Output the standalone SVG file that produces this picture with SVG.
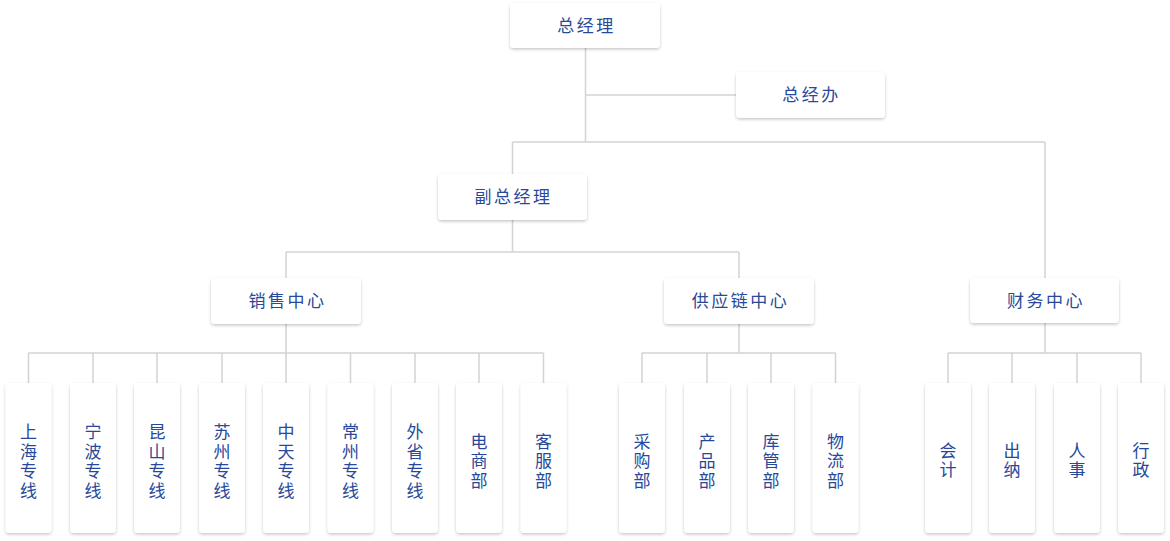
<svg xmlns="http://www.w3.org/2000/svg" width="1170" height="541" viewBox="0 0 1170 541">
<defs>
<filter id="sh" x="-30%" y="-30%" width="160%" height="160%">
<feDropShadow dx="0" dy="1.5" stdDeviation="1.8" flood-color="#000" flood-opacity="0.22"/>
</filter>
<style>
.b{fill:#fff;filter:url(#sh)}
.t{font-family:"Noto Sans CJK SC","Noto Sans",sans-serif;font-size:17px;fill:#28499a;text-anchor:middle;letter-spacing:2.5px}
.v{font-family:"Noto Sans CJK SC","Noto Sans",sans-serif;font-size:17px;fill:#28499a;text-anchor:middle}
.c{stroke:#d3d3d3;stroke-width:1.5;fill:none}
</style>
</defs>
<rect width="1170" height="541" fill="#fff"/>
<g id="connectors" class="c">
<path d="M585.5 48V142M585.5 95H736M512.5 142H1045M512.5 142V174M1045 142V278"/>
<path d="M512.5 220V252M286 252H739M286 252V278M739 252V278"/>
<path d="M286 324V353M28.5 353H543.5M28.5 353V383M93 353V383M157 353V383M222 353V383M286 353V383M350.5 353V383M415 353V383M479 353V383M543.5 353V383"/>
<path d="M739 324V353M642 353H835.5M642 353V383M707 353V383M771 353V383M835.5 353V383"/>
<path d="M1045 323V353M948 353H1141M948 353V383M1012 353V383M1077 353V383M1141 353V383"/>
</g>
<g id="n-zjl"><rect class="b" x="510" y="3" width="150" height="45" rx="4"/><text class="t" x="586.5" y="32">总经理</text></g>
<g id="n-zjb"><rect class="b" x="736" y="72" width="149" height="46" rx="4"/><text class="t" x="811.5" y="101">总经办</text></g>
<g id="n-fzjl"><rect class="b" x="438" y="174" width="149" height="46" rx="4"/><text class="t" x="513.5" y="203">副总经理</text></g>
<g id="n-xs"><rect class="b" x="211" y="278" width="150" height="46" rx="4"/><text class="t" x="287.5" y="307">销售中心</text></g>
<g id="n-gyl"><rect class="b" x="664" y="278" width="150" height="46" rx="4"/><text class="t" x="740.5" y="307">供应链中心</text></g>
<g id="n-cw"><rect class="b" x="970" y="278" width="149" height="45" rx="4"/><text class="t" x="1046" y="307">财务中心</text></g>

<g id="n-sh"><rect class="b" x="5.5" y="383" width="46" height="150" rx="4"/><text class="v" x="28.5" y="438">上<tspan x="28.5" dy="19.5">海</tspan><tspan x="28.5" dy="19.5">专</tspan><tspan x="28.5" dy="19.5">线</tspan></text></g>
<g id="n-nb"><rect class="b" x="70" y="383" width="46" height="150" rx="4"/><text class="v" x="93" y="438">宁<tspan x="93" dy="19.5">波</tspan><tspan x="93" dy="19.5">专</tspan><tspan x="93" dy="19.5">线</tspan></text></g>
<g id="n-ks"><rect class="b" x="134" y="383" width="46" height="150" rx="4"/><text class="v" x="157" y="438">昆<tspan x="157" dy="19.5">山</tspan><tspan x="157" dy="19.5">专</tspan><tspan x="157" dy="19.5">线</tspan></text></g>
<g id="n-sz"><rect class="b" x="199" y="383" width="46" height="150" rx="4"/><text class="v" x="222" y="438">苏<tspan x="222" dy="19.5">州</tspan><tspan x="222" dy="19.5">专</tspan><tspan x="222" dy="19.5">线</tspan></text></g>
<g id="n-zt"><rect class="b" x="263" y="383" width="46" height="150" rx="4"/><text class="v" x="286" y="438">中<tspan x="286" dy="19.5">天</tspan><tspan x="286" dy="19.5">专</tspan><tspan x="286" dy="19.5">线</tspan></text></g>
<g id="n-cz"><rect class="b" x="327.5" y="383" width="46" height="150" rx="4"/><text class="v" x="350.5" y="438">常<tspan x="350.5" dy="19.5">州</tspan><tspan x="350.5" dy="19.5">专</tspan><tspan x="350.5" dy="19.5">线</tspan></text></g>
<g id="n-ws"><rect class="b" x="392" y="383" width="46" height="150" rx="4"/><text class="v" x="415" y="438">外<tspan x="415" dy="19.5">省</tspan><tspan x="415" dy="19.5">专</tspan><tspan x="415" dy="19.5">线</tspan></text></g>
<g id="n-ds"><rect class="b" x="456" y="383" width="46" height="150" rx="4"/><text class="v" x="479" y="447.5">电<tspan x="479" dy="19.5">商</tspan><tspan x="479" dy="19.5">部</tspan></text></g>
<g id="n-kf"><rect class="b" x="520.5" y="383" width="46" height="150" rx="4"/><text class="v" x="543.5" y="447.5">客<tspan x="543.5" dy="19.5">服</tspan><tspan x="543.5" dy="19.5">部</tspan></text></g>

<g id="n-cg"><rect class="b" x="619" y="383" width="46" height="150" rx="4"/><text class="v" x="642" y="447.5">采<tspan x="642" dy="19.5">购</tspan><tspan x="642" dy="19.5">部</tspan></text></g>
<g id="n-cp"><rect class="b" x="684" y="383" width="46" height="150" rx="4"/><text class="v" x="707" y="447.5">产<tspan x="707" dy="19.5">品</tspan><tspan x="707" dy="19.5">部</tspan></text></g>
<g id="n-kg"><rect class="b" x="748" y="383" width="46" height="150" rx="4"/><text class="v" x="771" y="447.5">库<tspan x="771" dy="19.5">管</tspan><tspan x="771" dy="19.5">部</tspan></text></g>
<g id="n-wl"><rect class="b" x="812.5" y="383" width="46" height="150" rx="4"/><text class="v" x="835.5" y="447.5">物<tspan x="835.5" dy="19.5">流</tspan><tspan x="835.5" dy="19.5">部</tspan></text></g>

<g id="n-kj"><rect class="b" x="925" y="383" width="46" height="150" rx="4"/><text class="v" x="948" y="456.5">会<tspan x="948" dy="19.5">计</tspan></text></g>
<g id="n-cn"><rect class="b" x="989" y="383" width="46" height="150" rx="4"/><text class="v" x="1012" y="456.5">出<tspan x="1012" dy="19.5">纳</tspan></text></g>
<g id="n-rs"><rect class="b" x="1054" y="383" width="46" height="150" rx="4"/><text class="v" x="1077" y="456.5">人<tspan x="1077" dy="19.5">事</tspan></text></g>
<g id="n-xz"><rect class="b" x="1118" y="383" width="46" height="150" rx="4"/><text class="v" x="1141" y="456.5">行<tspan x="1141" dy="19.5">政</tspan></text></g>
</svg>
